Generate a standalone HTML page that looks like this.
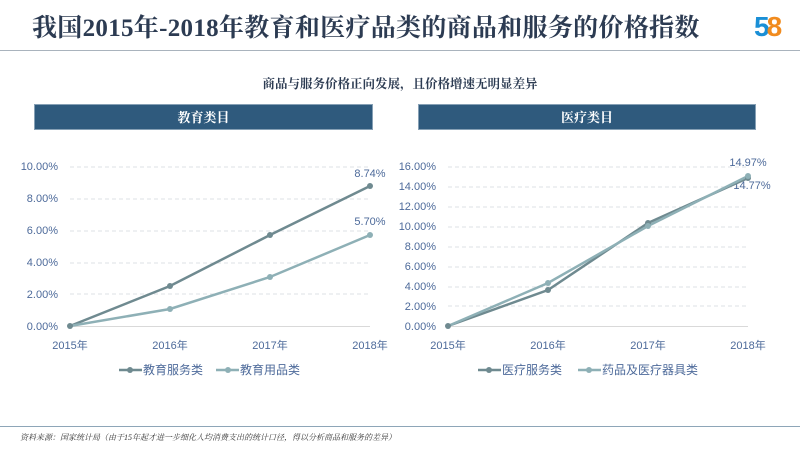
<!DOCTYPE html>
<html><head><meta charset="utf-8"><style>
body{margin:0;width:800px;height:450px;background:#fff;overflow:hidden;position:relative;font-family:"Liberation Sans","Noto Sans CJK SC",sans-serif}
.t{position:absolute;left:32px;top:8px;font-family:"Liberation Serif","Noto Serif CJK SC",serif;font-size:25px;font-weight:bold;color:#2c3b52;letter-spacing:0.3px}
.bar{position:absolute;top:104px;height:26px;background:#2f5a7d;color:#fff;font-family:"Liberation Serif","Noto Serif CJK SC",serif;font-weight:bold;font-size:13px;text-align:center;line-height:26px;border:1px solid #86a0b5;box-sizing:border-box}
</style></head><body>
<div class="t">我国2015年-2018年教育和医疗品类的商品和服务的价格指数</div>
<div style="position:absolute;left:754px;top:12px;font-size:28px;font-weight:bold;line-height:30px"><span style="color:#1a8fd6">5</span><span style="color:#f18b1e;margin-left:-3px">8</span></div>
<div style="position:absolute;left:0;top:50px;width:800px;height:1px;background:#a9b3bd"></div>
<div style="position:absolute;left:0;top:74px;width:800px;text-align:center;font-family:'Liberation Serif','Noto Serif CJK SC',serif;font-weight:bold;font-size:12.5px;color:#2c3b52">商品与服务价格正向发展，且价格增速无明显差异</div>
<div class="bar" style="left:34px;width:339px">教育类目</div>
<div class="bar" style="left:418px;width:338px">医疗类目</div>
<svg width="800" height="450" style="position:absolute;left:0;top:0" font-family="Liberation Sans, Noto Sans CJK SC, sans-serif" font-size="11" fill="#4d6a9a">
<g stroke="#dde1e5" stroke-dasharray="4,3">
<line x1="70" x2="370" y1="167" y2="167"/><line x1="70" x2="370" y1="199" y2="199"/><line x1="70" x2="370" y1="231" y2="231"/><line x1="70" x2="370" y1="263" y2="263"/><line x1="70" x2="370" y1="294" y2="294"/>
<line x1="448" x2="748" y1="167" y2="167"/><line x1="448" x2="748" y1="187" y2="187"/><line x1="448" x2="748" y1="207" y2="207"/><line x1="448" x2="748" y1="227" y2="227"/><line x1="448" x2="748" y1="247" y2="247"/><line x1="448" x2="748" y1="267" y2="267"/><line x1="448" x2="748" y1="287" y2="287"/><line x1="448" x2="748" y1="306" y2="306"/>
</g>
<line x1="70" x2="370" y1="326.5" y2="326.5" stroke="#d9d9d9"/>
<line x1="448" x2="748" y1="326.5" y2="326.5" stroke="#d9d9d9"/>
<g text-anchor="end">
<text x="58" y="170">10.00%</text><text x="58" y="202">8.00%</text><text x="58" y="234">6.00%</text><text x="58" y="266">4.00%</text><text x="58" y="298">2.00%</text><text x="58" y="330">0.00%</text>
<text x="436" y="170">16.00%</text><text x="436" y="190">14.00%</text><text x="436" y="210">12.00%</text><text x="436" y="230">10.00%</text><text x="436" y="250">8.00%</text><text x="436" y="270">6.00%</text><text x="436" y="290">4.00%</text><text x="436" y="310">2.00%</text><text x="436" y="330">0.00%</text>
</g>
<g text-anchor="middle">
<text x="70" y="349">2015年</text><text x="170" y="349">2016年</text><text x="270" y="349">2017年</text><text x="370" y="349">2018年</text>
<text x="448" y="349">2015年</text><text x="548" y="349">2016年</text><text x="648" y="349">2017年</text><text x="748" y="349">2018年</text>
<text x="370" y="177">8.74%</text><text x="370" y="225">5.70%</text>
<text x="748" y="166">14.97%</text><text x="752" y="189">14.77%</text>
</g>
<g fill="none" stroke-width="2.5">
<polyline stroke="#6f8a90" points="70,326 170,286 270,235 370,186"/>
<polyline stroke="#8eb0b6" points="70,326 170,309 270,277 370,235"/>
<polyline stroke="#6f8a90" points="448,326 548,290 648,223 748,178"/>
<polyline stroke="#8eb0b6" points="448,326 548,283 648,226 748,176"/>
</g>
<g fill="#6f8a90"><circle cx="70" cy="326" r="3"/><circle cx="170" cy="286" r="3"/><circle cx="270" cy="235" r="3"/><circle cx="370" cy="186" r="3"/>
<circle cx="448" cy="326" r="3"/><circle cx="548" cy="290" r="3"/><circle cx="648" cy="223" r="3"/><circle cx="748" cy="178" r="3"/></g>
<g fill="#8eb0b6"><circle cx="170" cy="309" r="3"/><circle cx="270" cy="277" r="3"/><circle cx="370" cy="235" r="3"/>
<circle cx="548" cy="283" r="3"/><circle cx="648" cy="226" r="3"/><circle cx="748" cy="176" r="3"/></g>
<g stroke-width="2.5">
<line x1="119" x2="142" y1="370" y2="370" stroke="#6f8a90"/><circle cx="130" cy="370" r="3" fill="#6f8a90"/>
<line x1="216" x2="239" y1="370" y2="370" stroke="#8eb0b6"/><circle cx="228" cy="370" r="3" fill="#8eb0b6"/>
<line x1="478" x2="501" y1="370" y2="370" stroke="#6f8a90"/><circle cx="489" cy="370" r="3" fill="#6f8a90"/>
<line x1="578" x2="601" y1="370" y2="370" stroke="#8eb0b6"/><circle cx="589" cy="370" r="3" fill="#8eb0b6"/>
</g>
<text x="143" y="374" font-size="12">教育服务类</text><text x="240" y="374" font-size="12">教育用品类</text>
<text x="502" y="374" font-size="12">医疗服务类</text><text x="602" y="374" font-size="12">药品及医疗器具类</text>
<line x1="0" x2="800" y1="426.5" y2="426.5" stroke="#8ea6b8"/>
<text x="20" y="440" font-size="8" font-style="italic" fill="#333" font-family="Liberation Serif, Noto Serif CJK SC, serif">资料来源：国家统计局（由于15年起才进一步细化人均消费支出的统计口径，得以分析商品和服务的差异）</text>
</svg>
</body></html>
